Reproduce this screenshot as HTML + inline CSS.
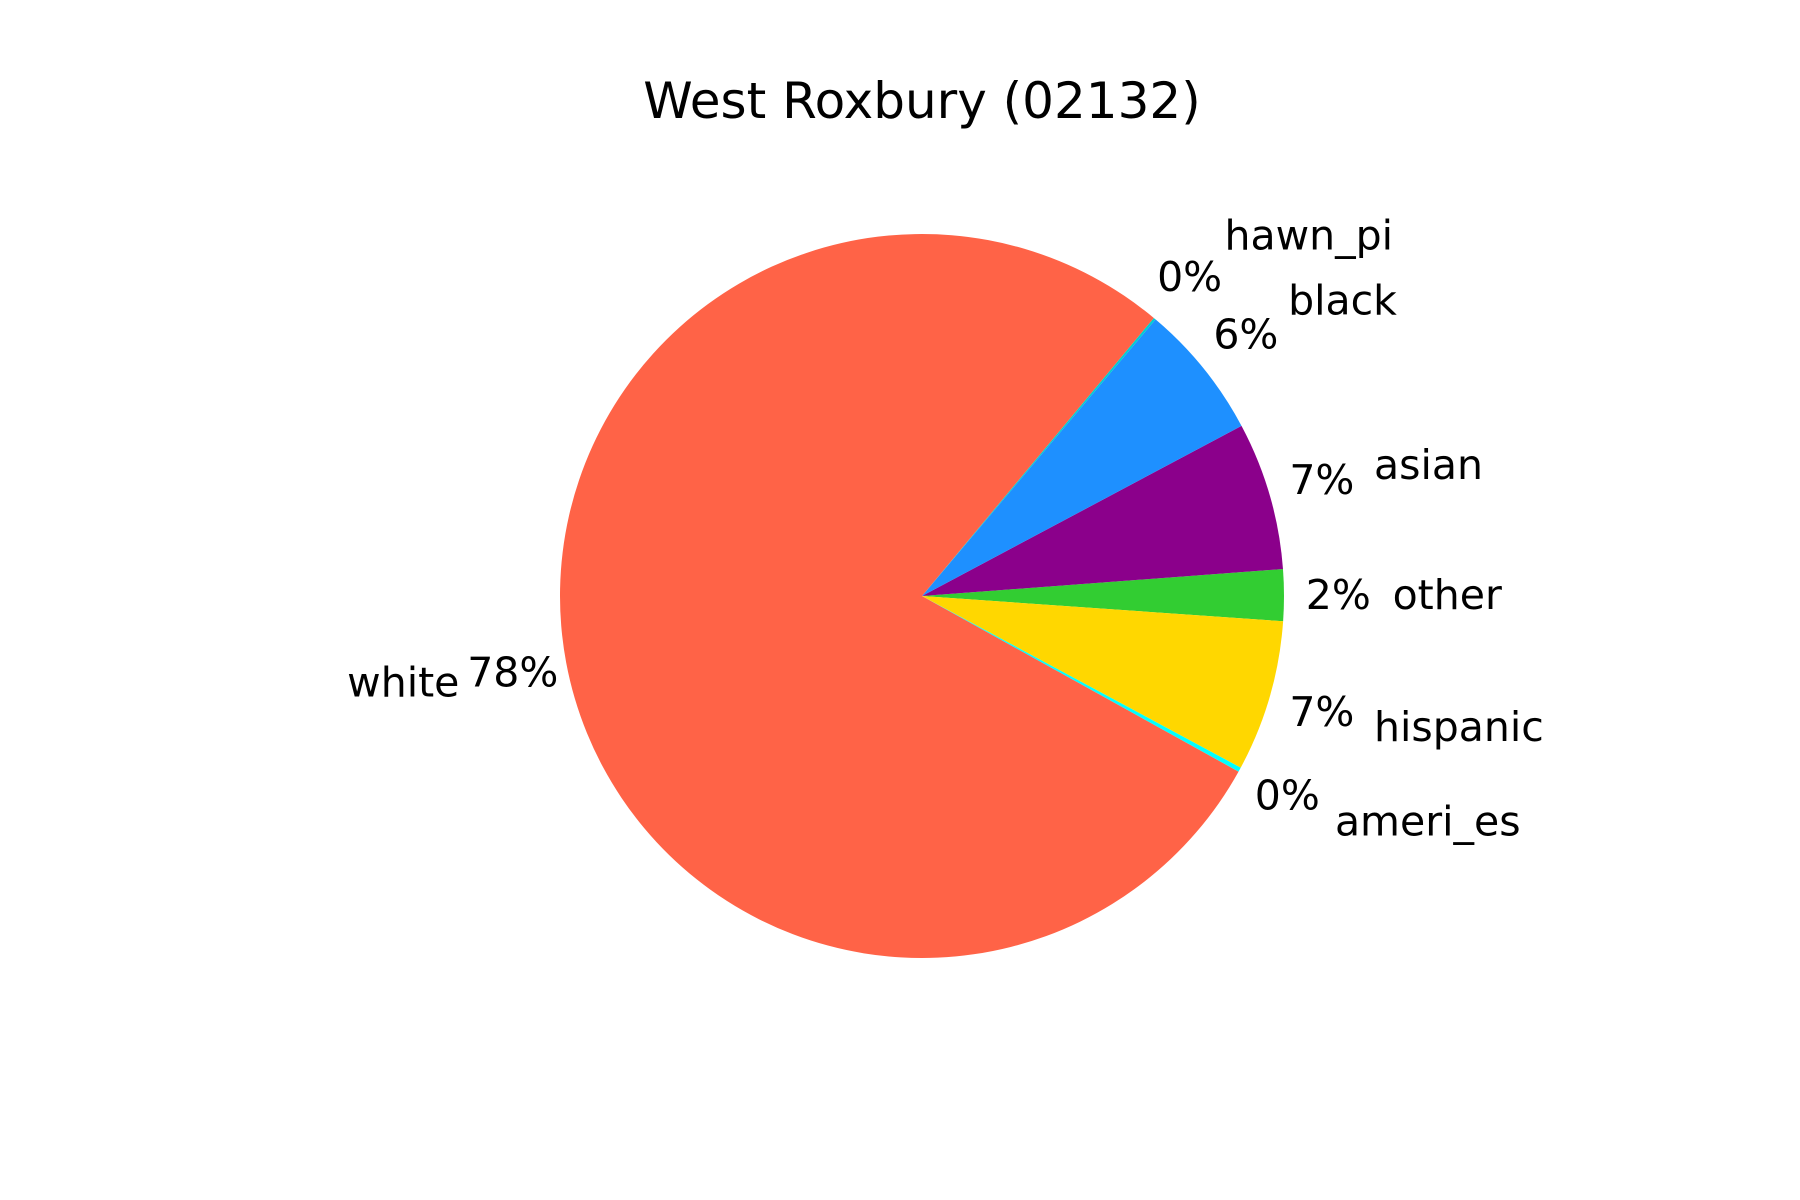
<!DOCTYPE html>
<html><head><meta charset="utf-8"><style>
html,body{margin:0;padding:0;background:#fff;}
svg{display:block;font-family:"DejaVu Sans","Liberation Sans",sans-serif;}
</style></head><body>
<svg id="chart" width="1800" height="1200" viewBox="0 0 1800 1200">
<text x="922" y="118" font-size="50" text-anchor="middle" fill="#000">West Roxbury (02132)</text>
<g id="slices"></g>
<g id="labels"></g>
</svg>
<script>
const categories = ["other","asian","black","hawn_pi","white","ameri_es","hispanic"];
const values = [2.3, 6.6, 6.05, 0.1, 78.0, 0.2, 6.75];
const colors = ["#32cd32","#8b008b","#1e90ff","#00ced1","#ff6347","#00ffff","#ffd700"];
const startAngle = -4;

const NS = "http://www.w3.org/2000/svg";
const cx = 922, cy = 596, R = 362;
const total = values.reduce((a,b)=>a+b,0);
const gS = document.getElementById("slices");
const gL = document.getElementById("labels");
function pt(angDeg, r){ const a = angDeg*Math.PI/180; return [cx + r*Math.cos(a), cy - r*Math.sin(a)]; }
let ang = startAngle;
values.forEach((v,i)=>{
  const sweep = v/total*360;
  const a0 = ang, a1 = ang + sweep;
  const p0 = pt(a0,R), p1 = pt(a1,R);
  const large = sweep > 180 ? 1 : 0;
  const path = document.createElementNS(NS,"path");
  path.setAttribute("d",`M${cx},${cy} L${p0[0]},${p0[1]} A${R},${R} 0 ${large} 0 ${p1[0]},${p1[1]} Z`);
  path.setAttribute("fill",colors[i]);
  
  
  gS.appendChild(path);
  const mid = (a0+a1)/2;
  const pp = pt(mid, R*1.15);
  const pct = document.createElementNS(NS,"text");
  pct.setAttribute("x",pp[0]); pct.setAttribute("y",pp[1]);
  pct.setAttribute("font-size","41"); pct.setAttribute("text-anchor","middle");
  pct.setAttribute("dominant-baseline","central");
  pct.textContent = Math.round(v) + "%";
  
  
  gL.appendChild(pct);
  const lp = pt(mid, R*1.3);
  const lab = document.createElementNS(NS,"text");
  lab.setAttribute("x",lp[0]); lab.setAttribute("y",lp[1]);
  lab.setAttribute("font-size","41");
  lab.setAttribute("text-anchor", lp[0] >= cx ? "start" : "end");
  lab.setAttribute("dominant-baseline","central");
  lab.textContent = categories[i];
  
  
  gL.appendChild(lab);
  ang = a1;
});
</script>
</body></html>
